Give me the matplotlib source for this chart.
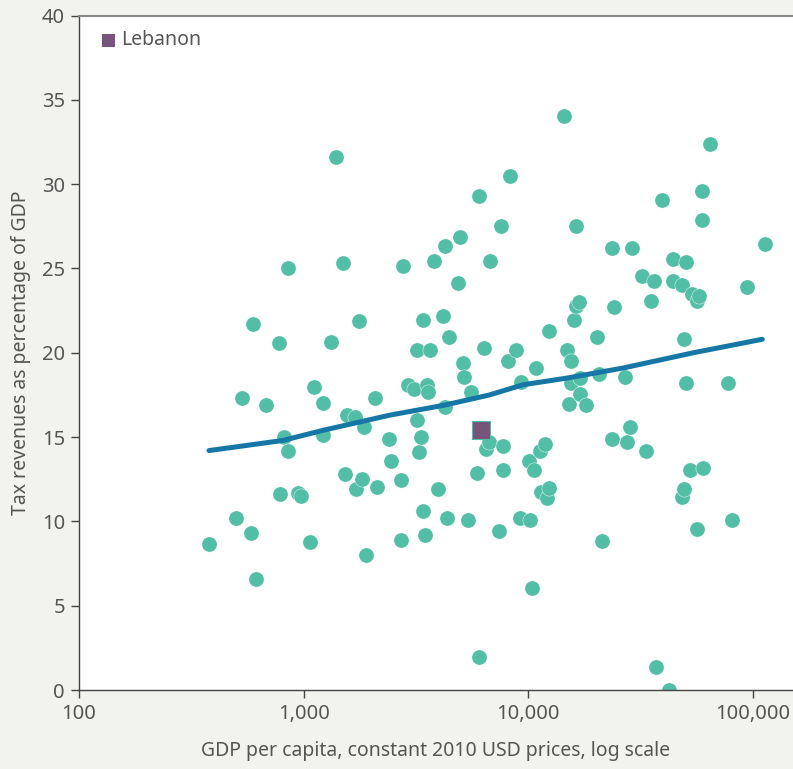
import matplotlib
matplotlib.use("Agg")
import matplotlib.pyplot as plt
from matplotlib.ticker import FixedLocator, NullLocator

plt.rcParams['font.family'] = ['Noto Sans', 'DejaVu Sans']

# GDP per capita (constant 2010 USD) and tax revenues (% of GDP)
gdp = [379, 500, 531, 582, 595, 613, 680, 776, 785, 817, 851, 851, 944, 972, 1067,
       1112, 1216, 1216, 1322, 1393, 1492, 1527, 1554, 1692, 1768, 1703, 1817, 1862,
       1904, 2076, 2130, 2397, 2446, 2710, 2724, 2767, 2903, 3096, 3184, 3184, 3250,
       3344, 3396, 3396, 3478, 3548, 3563, 3636, 3800, 3974, 4155, 4255, 4255, 4343,
       4448, 4845, 4960, 5100, 5185, 5405, 5555, 5925, 6050, 6050, 6475, 6680, 6345,
       6770, 7400, 7580, 7730, 7730, 8110, 8280, 8835, 9180, 9270, 10090, 10160,
       10350, 10590, 10810, 11290, 11350, 11810, 12050, 12390, 12390, 14450, 14800,
       15160, 15430, 15480, 16000, 16250, 16890, 16230, 16910, 16910, 18050, 20200,
       20700, 21190, 23620, 23620, 24100, 26980, 27560, 28250, 28910, 32210, 33570,
       35240, 36110, 36960, 39320, 42270, 44060, 44060, 48080, 48420, 49100, 49430,
       50270, 50460, 52550, 53330, 56110, 56250, 57570, 59020, 59020, 59980, 64270,
       77030, 80350, 93960, 112700]
tax = [8.66, 10.2, 17.3, 9.3, 21.7, 6.6, 16.9, 20.6, 11.6, 15.0, 25.0, 14.2, 11.7, 11.5, 8.8,
       17.95, 17.0, 15.1, 20.65, 31.6, 25.3, 12.8, 16.3, 16.2, 21.9, 11.9, 12.53, 15.62,
       8.0, 17.3, 12.02, 14.86, 13.56, 8.88, 12.46, 25.17, 18.09, 17.83, 20.17, 16.01, 14.09,
       15.02, 21.95, 10.59, 9.17, 18.09, 17.66, 20.17, 25.44, 11.95, 22.2, 26.33, 16.8, 10.22,
       20.92, 24.14, 26.85, 19.38, 18.58, 10.08, 17.7, 12.9, 29.3, 1.94, 14.3, 14.7, 20.27,
       25.44, 9.41, 27.5, 14.45, 13.05, 19.5, 30.47, 20.17, 10.22, 18.25, 13.58, 10.08,
       6.07, 13.05, 19.1, 14.2, 11.76, 14.6, 11.37, 12.0, 21.3, 34.06, 20.17,
       16.94, 18.2, 19.5, 21.95, 22.8, 23.0, 27.5, 18.5, 17.53, 16.9, 20.92,
       18.74, 8.82, 26.2, 14.87, 22.7, 18.58, 14.73, 15.6, 26.2, 24.55, 14.2,
       23.1, 24.28, 1.35, 29.04, 0.0, 25.56, 24.28, 11.47, 24.0, 20.8, 11.9,
       18.23, 25.4, 13.05, 23.5, 23.07, 9.57, 23.37, 29.58, 27.9, 13.17, 32.4,
       18.23, 10.08, 23.88, 26.45]

lebanon_gdp = [6170]
lebanon_tax = [15.45]

trend_gdp = [379, 808, 1218, 2416, 4255, 6720, 9450, 14870, 26500, 54200, 110000]
trend_tax = [14.2, 14.8, 15.4, 16.3, 16.9, 17.5, 18.1, 18.5, 19.1, 20.0, 20.8]

xticks = [100, 1000, 10000, 100000]
xtick_labels = ['100', '1,000', '10,000', '100,000']
yticks = [0, 5, 10, 15, 20, 25, 30, 35, 40]

teal = '#52bea5'
blue = '#1677a6'
purple = '#77547b'
txt = '#555555'

fig = plt.figure(figsize=(7.93, 7.69), dpi=100, facecolor='#f2f2ee')
ax = fig.add_axes([0.0996, 0.1027, 0.9004, 0.8771])
ax.set_facecolor('white')

ax.scatter(gdp, tax, s=120, color=teal, edgecolors='white', linewidths=0.3, zorder=2)
ax.plot(trend_gdp, trend_tax, color=blue, lw=3.6, solid_capstyle='round', zorder=3)
ax.scatter(lebanon_gdp, lebanon_tax, s=150, marker='s', color=purple,
           edgecolors=teal, linewidths=0.8, zorder=4, label='Lebanon')

ax.set_xscale('log')
ax.set_xlim(100, 150700)
ax.set_ylim(0, 40)
ax.xaxis.set_major_locator(FixedLocator(xticks))
ax.xaxis.set_minor_locator(NullLocator())
ax.set_xticklabels(xtick_labels)
ax.set_yticks(yticks)

for side in ['left', 'bottom']:
    ax.spines[side].set_color('#444444')
    ax.spines[side].set_linewidth(1.0)
ax.spines['top'].set_color('#888888')
ax.spines['top'].set_linewidth(1.5)
ax.spines['right'].set_visible(False)

ax.tick_params(axis='both', direction='out', length=6, width=1, color='#444444',
               labelsize=14.5, labelcolor=txt, pad=4)

ax.set_xlabel('GDP per capita, constant 2010 USD prices, log scale', fontsize=14,
              color=txt, labelpad=12)
ax.set_ylabel('Tax revenues as percentage of GDP', fontsize=14, color=txt, labelpad=8)

leg = ax.legend(loc='upper left', bbox_to_anchor=(0.0, 0.993), frameon=False, fontsize=14,
                handletextpad=-0.35, borderaxespad=0.2, borderpad=0.3, markerscale=0.75)
for t in leg.get_texts():
    t.set_color(txt)
for h in leg.legend_handles:
    h.set_edgecolor(purple)

fig.savefig('out.png', dpi=100, facecolor=fig.get_facecolor())
